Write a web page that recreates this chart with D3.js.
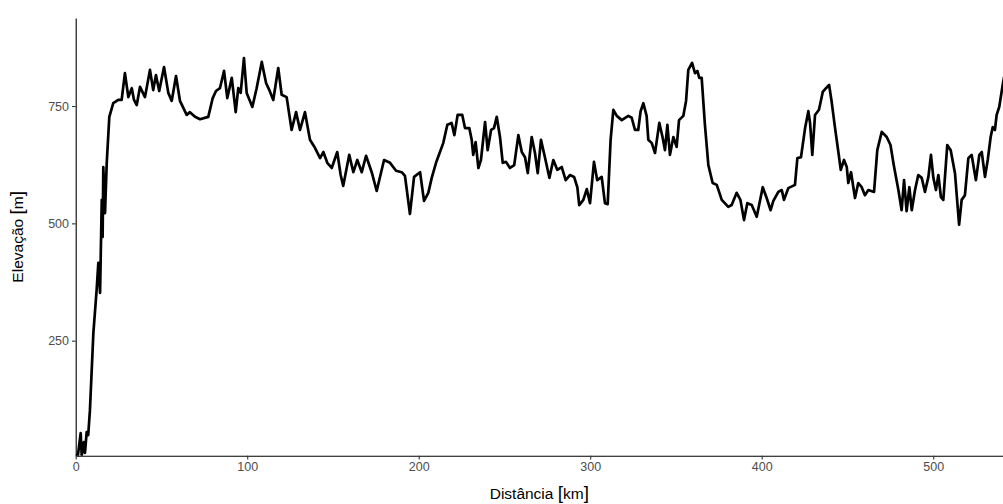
<!DOCTYPE html>
<html>
<script src='https://d3js.org/d3.v7.min.js'></script>
<style>
body {margin: 0; background: white;}
text {font-family: 'Liberation Sans', Arial, sans-serif;}
</style>
<body onload='init()'>
<script>
// elevation profile
var distanceKm = [0,1.3,2.9,3.5,4.8,5.4,6.4,7.3,8.3,10.3,12.2,13.2,14.2,15.2,15.7,16.1,17.1,18.1,19.6,21.9,
  24.8,26.8,28.7,30.7,32.7,34.0,35.6,37.5,40.4,43.3,45.2,46.8,48.7,51.5,54.0,56.0,58.5,60.8,64.7,66.6,
  69.6,72.5,77.3,79.9,81.8,84.1,86.5,88.4,91.0,93.3,94.8,96.2,98.1,99.7,103.0,105.5,108.5,111.0,112.9,115.2,
  118.1,120.1,123.0,125.9,128.5,130.8,133.7,136.6,139.5,142.5,144.4,146.7,149.3,152.5,154.5,156.0,159.5,161.9,164.2,166.8,
  169.3,172.6,175.5,179.8,183.3,186.8,190.1,192.0,194.9,197.3,200.8,203.1,205.6,207.6,210.1,212.4,214.3,216.7,219.2,220.8,
  222.7,225.4,227.0,229.5,230.9,231.8,233.2,234.8,236.3,238.7,240.2,242.2,243.9,245.5,247.4,249.0,250.9,253.2,255.7,258.1,
  260.1,262.0,263.6,265.9,267.8,269.4,271.3,273.6,276.2,278.5,280.8,283.4,285.7,288.2,290.6,292.5,293.6,296.0,298.0,299.9,
  302.2,304.1,306.7,308.6,310.2,311.9,313.5,315.5,318.4,322.2,324.2,326.1,328.0,329.4,331.0,332.9,333.9,335.9,337.8,340.3,
  342.3,343.6,345.0,346.5,348.5,350.4,351.8,354.3,355.9,357.2,359.4,361.1,362.5,363.6,365.0,366.9,368.9,371.4,373.8,376.7,
  380.5,382.5,385.4,387.6,389.7,391.6,394.2,397.1,400.6,402.9,405.2,406.8,409.7,411.7,413.0,415.5,419.4,420.8,422.9,425.3,
  427.2,428.2,429.5,431.1,433.4,435.6,437.5,439.3,440.8,442.7,444.7,446.1,448.0,449.6,450.5,452.1,454.4,456.3,458.3,460.2,
  462.2,465.5,467.4,470.0,472.9,475.1,477.1,479.7,481.6,483.0,484.5,486.1,487.5,489.4,491.3,493.3,495.2,497.2,498.7,500.1,
  501.6,503.0,504.5,505.9,508.2,510.2,512.7,515.1,516.6,518.5,520.5,522.4,524.9,526.9,528.3,530.2,531.8,533.5,534.7,536.0,
  537.0,538.5,540.7,542.0];
var elevationM = [6,6,53,6,34,11,55,49,102,266,358,416,352,550,471,620,522,629,727,756,
  763,763,820,769,788,763,752,791,769,827,784,816,782,833,778,761,814,761,731,737,
  727,722,727,767,782,788,825,767,810,737,788,778,852,778,748,788,844,799,784,763,
  831,774,769,699,737,699,737,678,661,639,652,629,618,652,603,580,646,609,635,609,
  644,609,569,635,629,612,609,601,520,599,609,548,565,597,629,652,671,710,714,688,
  731,731,703,703,678,646,673,618,635,716,656,699,703,727,684,629,631,618,624,688,
  652,641,607,684,650,607,678,641,597,635,614,620,592,603,599,577,539,550,573,543,
  631,592,599,543,541,678,742,729,720,729,725,699,699,739,756,729,678,671,650,714,
  682,656,710,646,684,663,720,729,761,827,842,820,825,810,810,710,624,586,582,550,
  535,539,565,550,507,543,539,514,577,554,528,548,567,571,550,575,582,639,641,703,
  739,714,646,731,742,780,788,795,759,705,652,614,635,620,586,609,554,586,577,560,
  571,567,656,695,684,667,622,571,528,592,526,577,528,571,603,597,567,599,646,597,
  571,603,556,550,667,656,607,497,550,560,639,646,592,646,652,599,635,684,705,699,
  731,748,799,825];
var xTicks = [0,100,200,300,400,500];
var yTicks = [250,500,750];

async function init() {
var width = 1003, height = 504;
var left = 75.7, right = 1003, top = 18, bottom = 455.7;

var svg = d3.select('body').append('svg')
  .attr('width', width)
  .attr('height', height);

var x = d3.scaleLinear().domain([0, 540.7]).range([left, right]);
var y = d3.scaleLinear().domain([4.9, 937.6]).range([bottom, top]);

var pts = distanceKm.map(function(d, i){ return [d, elevationM[i]]; });

svg.append('clipPath').attr('id', 'panel')
  .append('rect').attr('x', left).attr('y', top)
  .attr('width', right - left).attr('height', bottom - top);

svg.append('path')
  .datum(pts)
  .attr('clip-path', 'url(#panel)')
  .attr('fill', 'none')
  .attr('stroke', 'black')
  .attr('stroke-width', 2.7)
  .attr('stroke-linejoin', 'round')
  .attr('d', d3.line().x(function(d){return x(d[0]);}).y(function(d){return y(d[1]);}));

// x axis
var gx = svg.append('g')
  .attr('transform', 'translate(0,' + bottom + ')')
  .call(d3.axisBottom(x).tickValues(xTicks).tickSize(3.7).tickPadding(3).tickSizeOuter(0));
// y axis
var gy = svg.append('g')
  .attr('transform', 'translate(' + left + ',0)')
  .call(d3.axisLeft(y).tickValues(yTicks).tickSize(3.7).tickPadding(3).tickSizeOuter(0));

[gx, gy].forEach(function(g){
  g.select('.domain').attr('stroke', 'black').attr('stroke-width', 1.1);
  g.selectAll('.tick line').attr('stroke', '#333').attr('stroke-width', 1.1);
  g.selectAll('.tick text').attr('fill', '#4d4d4d')
    .style('font-size', '12.5px').style('font-family', "'Liberation Sans', Arial, sans-serif");
});

// axis titles
var xt = svg.append('text')
  .attr('x', (left + right) / 2)
  .attr('y', 499)
  .style('text-anchor', 'middle')
  .style('font-size', '15.5px');
xt.append('tspan').text('Distância ');
xt.append('tspan').style('font-size', '19px').text('[');
xt.append('tspan').text('km');
xt.append('tspan').style('font-size', '19px').text(']');

var yt = svg.append('text')
  .attr('transform', 'translate(23,' + ((top + bottom) / 2) + ')rotate(-90)')
  .style('text-anchor', 'middle')
  .style('font-size', '15.5px');
yt.append('tspan').text('Elevação ');
yt.append('tspan').style('font-size', '19px').text('[');
yt.append('tspan').text('m');
yt.append('tspan').style('font-size', '19px').text(']');
}
</script>
</body>
</html>
